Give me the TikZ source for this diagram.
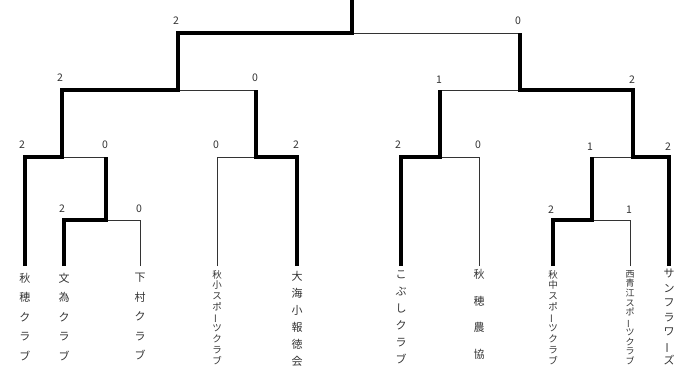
\documentclass[tikz,border=0pt]{standalone}
\usepackage{fontspec}
\usepackage{graphicx}
\newfontfamily\cjk{Noto Sans CJK JP}
\newcommand\vbar{\rotatebox[origin=c]{90}{ー}}
\begin{document}
\begin{tikzpicture}[x=1pt,y=-1pt,
  thinline/.style={line width=0.9pt, black!80},
  thickline/.style={line width=3.8pt, black, line join=miter},
  score/.style={font=\cjk\fontsize{10.5}{11}\selectfont, text=black!80, inner sep=0pt},
  vname/.style={anchor=north, align=center, inner sep=0pt, text=black!80}]
\useasboundingbox (0,0) rectangle (683,372);
% bracket points
\coordinate (root) at (352,0);
\coordinate (f) at (352,33);
\coordinate (fl) at (178,33); \coordinate (fr) at (520,33);
\coordinate (s1l) at (62,90); \coordinate (s1) at (178,90); \coordinate (s1r) at (256,90);
\coordinate (s2l) at (440,90); \coordinate (s2) at (520,90); \coordinate (s2r) at (633,90);
\coordinate (m2l) at (25,157); \coordinate (m2) at (62,157); \coordinate (m2r) at (106,157);
\coordinate (m3l) at (217,157); \coordinate (m3) at (256,157); \coordinate (m3r) at (297,157);
\coordinate (m5l) at (401,157); \coordinate (m5) at (440,157); \coordinate (m5r) at (479,157);
\coordinate (m6l) at (592,157); \coordinate (m6) at (633,157); \coordinate (m6r) at (669,157);
\coordinate (m1l) at (64,220); \coordinate (m1) at (106,220); \coordinate (m1r) at (140,220);
\coordinate (m4l) at (553,220); \coordinate (m4) at (592,220); \coordinate (m4r) at (630,220);
\coordinate (b1) at (25,266); \coordinate (b2) at (64,266); \coordinate (b3) at (140,266);
\coordinate (b4) at (217,266); \coordinate (b5) at (297,266); \coordinate (b6) at (401,266);
\coordinate (b7) at (479,266); \coordinate (b8) at (553,266); \coordinate (b9) at (630,266);
\coordinate (b10) at (669,266);
% thin lines (losing branches)
\draw[thinline] (b3) -- (m1r) -- (m1);
\draw[thinline] (m2) -- (m2r);
\draw[thinline] (b4) -- (m3l) -- (m3);
\draw[thinline] (s1) -- (s1r);
\draw[thinline] (s2l) -- (s2);
\draw[thinline] (b7) -- (m5r) -- (m5);
\draw[thinline] (m6l) -- (m6);
\draw[thinline] (b9) -- (m4r) -- (m4);
\draw[thinline] (f) -- (fr);
% thick lines (winning branches)
\draw[thickline] (b1) -- (m2l) -- (m2) -- (s1l) -- (s1) -- (fl) -- (f) -- (root);
\draw[thickline] (b2) -- (m1l) -- (m1) -- (m2r);
\draw[thickline] (b5) -- (m3r) -- (m3) -- (s1r);
\draw[thickline] (b6) -- (m5l) -- (m5) -- (s2l);
\draw[thickline] (b8) -- (m4l) -- (m4) -- (m6l);
\draw[thickline] (b10) -- (m6r) -- (m6) -- (s2r) -- (s2) -- (fr);
% scores
\node[score] (sfl) at ([xshift=-2pt,yshift=12pt]fl) {2};
\node[score] (sfr) at ([xshift=-2pt,yshift=12pt]fr) {0};
\node[score] (ss1l) at ([xshift=-2pt,yshift=12pt]s1l) {2};
\node[score] (ss1r) at ([xshift=-1pt,yshift=12pt]s1r) {0};
\node[score] (ss2l) at ([xshift=-1pt,yshift=10pt]s2l) {1};
\node[score] (ss2r) at ([xshift=-1pt,yshift=10pt]s2r) {2};
\node[score] (sm2l) at ([xshift=-3pt,yshift=12pt]m2l) {2};
\node[score] (sm2r) at ([xshift=-1pt,yshift=12pt]m2r) {0};
\node[score] (sm3l) at ([xshift=-1pt,yshift=12pt]m3l) {0};
\node[score] (sm3r) at ([xshift=-1pt,yshift=12pt]m3r) {2};
\node[score] (sm5l) at ([xshift=-3pt,yshift=12pt]m5l) {2};
\node[score] (sm5r) at ([xshift=-1pt,yshift=12pt]m5r) {0};
\node[score] (sm6l) at ([xshift=-2pt,yshift=10pt]m6l) {1};
\node[score] (sm6r) at ([xshift=-1pt,yshift=10pt]m6r) {2};
\node[score] (sm1l) at ([xshift=-2pt,yshift=11pt]m1l) {2};
\node[score] (sm1r) at ([xshift=-1pt,yshift=11pt]m1r) {0};
\node[score] (sm4l) at ([xshift=-2pt,yshift=10pt]m4l) {2};
\node[score] (sm4r) at ([xshift=-1pt,yshift=10pt]m4r) {1};
% team names (vertical)
\node[vname, font=\cjk\fontsize{11}{19.5}\selectfont] (t1) at (25,273) {秋\\穂\\ク\\ラ\\ブ};
\node[vname, font=\cjk\fontsize{11}{19.5}\selectfont] (t2) at (64,273) {文\\為\\ク\\ラ\\ブ};
\node[vname, font=\cjk\fontsize{11}{19.5}\selectfont] (t3) at (140,273) {下\\村\\ク\\ラ\\ブ};
\node[vname, font=\cjk\fontsize{9.5}{10.75}\selectfont] (t4) at (217,270) {秋\\小\\ス\\ポ\\\vbar\\ツ\\ク\\ラ\\ブ};
\node[vname, font=\cjk\fontsize{11}{17}\selectfont] (t5) at (297,271) {大\\海\\小\\報\\徳\\会};
\node[vname, font=\cjk\fontsize{11}{17}\selectfont] (t6) at (401,271) {こ\\ぶ\\し\\ク\\ラ\\ブ};
\node[vname, font=\cjk\fontsize{11}{26.7}\selectfont] (t7) at (479,269) {秋\\穂\\農\\協};
\node[vname, font=\cjk\fontsize{9.5}{10.75}\selectfont] (t8) at (553,270) {秋\\中\\ス\\ポ\\\vbar\\ツ\\ク\\ラ\\ブ};
\node[vname, font=\cjk\fontsize{9}{9.7}\selectfont] (t9) at (630,270) {西\\青\\江\\ス\\ポ\\\vbar\\ツ\\ク\\ラ\\ブ};
\node[vname, font=\cjk\fontsize{11}{14.5}\selectfont] (t10) at (669,269) {サ\\ン\\フ\\ラ\\ワ\\\vbar\\ズ};
\end{tikzpicture}
\end{document}
